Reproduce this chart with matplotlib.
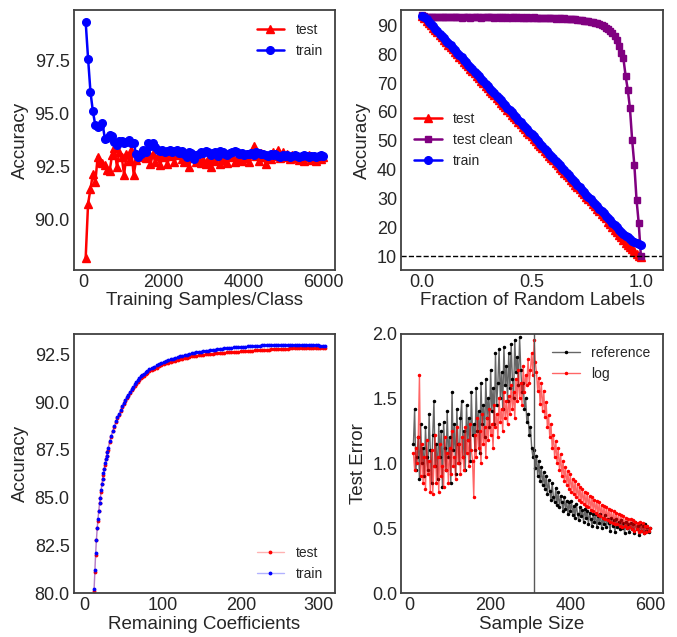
# four panel accuracy / error figure
import numpy as np
import matplotlib.pyplot as plt

# --- panel 1: training samples per class
samples = np.arange(60, 6001, 60)
p1_train = [99.3, 97.58, 96.0, 95.1, 94.45, 94.35, 94.4, 94.55, 93.8, 93.85,
            94.0, 93.95, 93.65, 93.5, 93.7, 93.7, 93.6, 93.65, 93.75, 93.6,
            93.6, 93.1, 92.97, 93.1, 93.3, 93.2, 93.6, 93.45, 93.6, 93.4,
            93.3, 93.25, 93.3, 93.2, 93.25, 93.3, 93.2, 93.25, 93.3, 93.15,
            93.25, 93.1, 92.95, 93.2, 93.15, 92.85, 93.05, 93.1, 93.2, 93.15,
            93.25, 93.2, 93.05, 93.15, 93.2, 93.0, 93.25, 93.2, 93.1, 93.05,
            93.15, 93.2, 93.25, 93.2, 93.1, 93.15, 93.05, 93.1, 93.1, 93.15,
            93.05, 93.2, 93.15, 93.1, 93.1, 93.05, 93.0, 93.1, 93.05, 93.1,
            93.0, 92.95, 93.05, 93.0, 93.05, 92.95, 93.0, 93.05, 93.0, 92.95,
            93.0, 93.05, 93.0, 92.95, 93.0, 93.0, 92.95, 93.0, 93.05, 93.0]
p1_test = [88.2, 90.75, 91.44, 92.16, 91.75, 92.97, 92.7, 92.65, 92.58, 92.34,
           92.3, 93.05, 93.36, 92.5, 93.2, 92.97, 92.1, 93.1, 92.77, 93.28,
           92.1, 92.8, 92.97, 93.1, 93.0, 92.9, 93.2, 92.6, 93.1, 92.7,
           93.0, 92.55, 92.95, 93.15, 92.6, 93.0, 93.1, 92.7, 93.05, 93.1,
           92.85, 92.7, 93.0, 92.5, 92.9, 93.05, 92.7, 92.85, 92.65, 92.8,
           92.6, 92.85, 92.5, 92.9, 92.75, 93.05, 92.6, 92.95, 92.8, 92.65,
           92.95, 93.0, 92.7, 92.85, 93.1, 92.75, 92.9, 93.0, 92.7, 93.1,
           93.45, 93.0, 92.75, 93.15, 92.95, 92.6, 93.0, 92.85, 93.2, 93.0,
           93.3, 92.9, 93.2, 92.95, 93.1, 92.85, 93.05, 92.9, 93.0, 92.8,
           93.0, 92.75, 92.95, 93.05, 92.8, 92.95, 92.75, 93.0, 92.85, 92.95]

# --- panel 2: fraction of random labels
fraction = np.linspace(0, 1, 101)
p2_test = [93.3, 92.5, 91.6, 90.8, 90.0, 89.1, 88.3, 87.5, 86.6, 85.8,
           84.9, 84.1, 83.3, 82.4, 81.6, 80.8, 79.9, 79.1, 78.3, 77.4,
           76.6, 75.8, 74.9, 74.1, 73.3, 72.4, 71.6, 70.8, 69.9, 69.1,
           68.2, 67.4, 66.6, 65.7, 64.9, 64.1, 63.2, 62.4, 61.6, 60.7,
           59.9, 59.1, 58.2, 57.4, 56.6, 55.7, 54.9, 54.0, 53.2, 52.4,
           51.5, 50.7, 49.9, 49.0, 48.2, 47.4, 46.5, 45.7, 44.9, 44.0,
           43.2, 42.4, 41.5, 40.7, 39.9, 39.0, 38.2, 37.4, 36.5, 35.7,
           34.8, 34.0, 33.2, 32.3, 31.5, 30.7, 29.8, 29.0, 28.2, 27.3,
           26.5, 25.7, 24.8, 24.0, 23.2, 22.0, 21.1, 20.2, 19.3, 18.4,
           17.5, 16.6, 15.7, 14.8, 14.0, 13.2, 12.5, 11.8, 11.0, 10.3, 9.7]
p2_clean = [93.4, 93.1, 92.9, 93.0, 92.8, 93.0, 92.9, 92.8, 93.0, 92.9,
            92.8, 92.9, 92.7, 92.9, 92.8, 92.7, 92.9, 92.8, 92.6, 92.8,
            92.7, 92.8, 92.6, 92.8, 92.7, 92.9, 92.8, 92.6, 92.8, 92.7,
            92.9, 92.7, 92.8, 92.6, 92.7, 92.8, 92.6, 92.7, 92.8, 92.6,
            92.7, 92.5, 92.7, 92.8, 92.6, 92.7, 92.5, 92.6, 92.7, 92.5,
            92.6, 92.7, 92.5, 92.6, 92.4, 92.6, 92.5, 92.6, 92.4, 92.5,
            92.5, 92.3, 92.5, 92.4, 92.2, 92.4, 92.3, 92.1, 92.2, 92.0,
            92.1, 91.9, 91.9, 91.7, 91.6, 91.5, 91.3, 91.2, 91.0, 90.8,
            90.6, 90.3, 90.0, 89.6, 89.2, 88.7, 88.0, 87.2, 86.2, 84.8,
            82.8, 80.4, 78.5, 72.5, 67.7, 61.2, 50.2, 41.7, 29.6, 21.5, 10.0]
p2_train = [93.3, 92.8, 92.0, 91.2, 90.4, 89.6, 88.8, 87.9, 87.1, 86.3,
            85.5, 84.7, 83.8, 83.0, 82.2, 81.4, 80.5, 79.7, 78.9, 78.1,
            77.2, 76.4, 75.6, 74.8, 73.9, 73.1, 72.3, 71.5, 70.6, 69.8,
            69.0, 68.1, 67.3, 66.5, 65.6, 64.8, 64.0, 63.1, 62.3, 61.5,
            60.6, 59.8, 59.0, 58.1, 57.3, 56.5, 55.6, 54.8, 54.0, 53.1,
            52.3, 51.5, 50.6, 49.8, 49.0, 48.1, 47.3, 46.5, 45.6, 44.8,
            44.0, 43.1, 42.3, 41.5, 40.6, 39.8, 39.0, 38.1, 37.3, 36.5,
            35.6, 34.8, 34.0, 33.1, 32.3, 31.4, 30.6, 29.8, 28.9, 28.1,
            27.3, 26.5, 25.7, 24.9, 24.1, 23.3, 22.5, 21.7, 20.9, 20.1,
            19.3, 18.6, 17.9, 17.2, 16.6, 16.0, 15.5, 15.0, 14.6, 14.3, 14.0]
chance_level = 10

# --- panel 3: remaining coefficients
coeffs = list(range(12, 31)) + list(range(32, 81, 2)) + list(range(83, 309, 3))
p3_train = [80.2, 81.2, 82.1, 82.8, 83.4, 83.9, 84.3, 84.7, 85.0, 85.4,
            85.7, 86.0, 86.3, 86.5, 86.8, 87.0, 87.2, 87.4, 87.6,
            87.95, 88.25, 88.5, 88.75, 89.0, 89.2, 89.4, 89.6, 89.8, 89.95,
            90.1, 90.25, 90.4, 90.55, 90.7, 90.8, 90.95, 91.05, 91.15, 91.25,
            91.35, 91.42, 91.5, 91.57, 91.63,
            91.72, 91.8, 91.87, 91.94, 92.0, 92.06, 92.11, 92.16, 92.2, 92.25,
            92.29, 92.33, 92.37, 92.4, 92.44, 92.47, 92.5, 92.53, 92.56, 92.58,
            92.61, 92.63, 92.65, 92.67, 92.69, 92.71, 92.73, 92.74, 92.76, 92.77,
            92.79, 92.8, 92.82, 92.83, 92.84, 92.86, 92.87, 92.88, 92.89, 92.9,
            92.91, 92.92, 92.93, 92.94, 92.95, 92.96, 92.97, 92.97, 92.98, 92.99,
            93.0, 93.0, 93.01, 93.01, 93.02, 93.02, 93.02, 93.02, 93.02, 93.02,
            93.01, 93.01, 93.01, 93.0, 92.99, 92.99, 92.98, 92.98, 92.98, 92.98,
            92.98, 92.98, 92.98, 92.97, 92.97, 92.97]
p3_test = [80.1, 81.1, 82.0, 82.8, 83.4, 83.8, 84.3, 84.7, 85.0, 85.3,
           85.7, 86.0, 86.2, 86.5, 86.7, 87.0, 87.2, 87.4, 87.5,
           87.9, 88.2, 88.5, 88.7, 88.95, 89.15, 89.35, 89.55, 89.75, 89.9,
           90.05, 90.2, 90.35, 90.5, 90.62, 90.73, 90.85, 90.95, 91.05, 91.15,
           91.25, 91.32, 91.4, 91.47, 91.53,
           91.62, 91.69, 91.76, 91.82, 91.88, 91.94, 91.99, 92.03, 92.07, 92.11,
           92.15, 92.18, 92.22, 92.25, 92.28, 92.31, 92.34, 92.37, 92.4, 92.42,
           92.44, 92.46, 92.48, 92.5, 92.51, 92.52, 92.54, 92.55, 92.56, 92.58,
           92.59, 92.6, 92.6, 92.61, 92.62, 92.63, 92.63, 92.64, 92.65, 92.66,
           92.67, 92.68, 92.69, 92.7, 92.71, 92.72, 92.73, 92.74, 92.75, 92.75,
           92.76, 92.76, 92.77, 92.78, 92.78, 92.79, 92.8, 92.8, 92.81, 92.81,
           92.82, 92.82, 92.83, 92.83, 92.83, 92.84, 92.84, 92.84, 92.85, 92.85,
           92.85, 92.85, 92.85, 92.85, 92.85, 92.85]

# --- panel 4: sample size vs test error
sample_size = np.arange(10, 601, 3)
p4_reference = [1.15, 1.42, 0.95, 1.05, 1.20, 0.88, 1.30, 1.00, 1.12, 0.90,
                1.28, 1.05, 0.95, 1.38, 1.10, 0.85, 1.22, 1.48, 0.98, 1.15,
                0.88, 1.30, 1.05, 1.25, 0.82, 1.32, 1.12, 0.95, 1.40, 1.05,
                1.20, 0.85, 1.55, 1.10, 1.30, 0.92, 1.42, 1.15, 1.00, 1.35,
                1.48, 1.05, 1.25, 0.95, 1.45, 1.18, 1.35, 1.02, 1.55, 1.22,
                1.30, 1.10, 1.58, 1.25, 1.40, 1.08, 1.62, 1.30, 1.45, 1.20,
                1.65, 1.35, 1.50, 1.28, 1.72, 1.40, 1.58, 1.30, 1.85, 1.45,
                1.62, 1.88, 1.50, 1.70, 1.42, 1.90, 1.60, 1.75, 1.48, 1.85,
                1.58, 1.92, 1.65, 1.50, 1.95, 1.70, 1.82, 1.60, 1.97, 1.72,
                1.55, 1.62, 1.42, 1.50, 1.32, 1.38, 1.22, 1.28, 1.12, 1.05,
                1.10, 0.96, 1.06, 0.90, 1.02, 0.86, 0.97, 0.83, 0.93, 0.80,
                0.90, 0.76, 0.87, 0.79, 0.72, 0.85, 0.74, 0.70, 0.81, 0.68,
                0.78, 0.66, 0.75, 0.70, 0.63, 0.74, 0.65, 0.71, 0.61, 0.70,
                0.63, 0.71, 0.60, 0.67, 0.58, 0.69, 0.61, 0.56, 0.66, 0.59,
                0.64, 0.55, 0.65, 0.58, 0.63, 0.53, 0.62, 0.57, 0.52, 0.61,
                0.55, 0.61, 0.51, 0.59, 0.54, 0.61, 0.50, 0.58, 0.53, 0.60,
                0.51, 0.57, 0.54, 0.48, 0.58, 0.52, 0.56, 0.47, 0.57, 0.51,
                0.55, 0.49, 0.56, 0.50, 0.54, 0.46, 0.55, 0.50, 0.53, 0.47,
                0.54, 0.49, 0.53, 0.46, 0.55, 0.49, 0.52, 0.45, 0.53, 0.48,
                0.52, 0.46, 0.53, 0.48, 0.51, 0.47, 0.50]
p4_log = [1.08, 0.95, 1.12, 1.00, 1.20, 1.68, 0.90, 1.15, 0.85, 1.05,
          0.80, 1.18, 0.92, 1.02, 0.78, 1.10, 0.76, 0.98, 1.22, 0.85,
          1.05, 0.78, 1.15, 0.90, 0.98, 0.82, 1.20, 0.95, 1.08, 0.85,
          1.12, 0.92, 1.25, 0.98, 1.05, 0.88, 1.28, 1.00, 1.15, 0.92,
          1.20, 1.05, 0.95, 1.28, 1.08, 1.18, 0.98, 1.30, 1.10, 1.02,
          0.74, 1.22, 1.05, 1.35, 1.12, 1.25, 1.00, 1.38, 1.15, 1.28,
          1.05, 1.35, 1.18, 1.42, 1.22, 1.30, 1.12, 1.45, 1.28, 1.38,
          1.20, 1.50, 1.32, 1.42, 1.25, 1.55, 1.35, 1.48, 1.30, 1.52,
          1.38, 1.60, 1.42, 1.55, 1.35, 1.65, 1.48, 1.72, 1.50, 1.62,
          1.45, 1.75, 1.55, 1.68, 1.60, 1.80, 1.62, 1.72, 1.85, 1.68,
          1.95, 1.78, 1.70, 1.56, 1.66, 1.46, 1.62, 1.40, 1.56, 1.36,
          1.47, 1.28, 1.37, 1.20, 1.30, 1.12, 1.22, 1.05, 1.17, 1.00,
          1.12, 0.95, 1.07, 0.90, 1.02, 0.86, 0.97, 0.83, 0.94, 0.80,
          0.92, 0.78, 0.88, 0.76, 0.86, 0.74, 0.84, 0.72, 0.82, 0.70,
          0.80, 0.69, 0.78, 0.67, 0.77, 0.66, 0.75, 0.64, 0.74, 0.63,
          0.72, 0.62, 0.71, 0.60, 0.70, 0.59, 0.68, 0.58, 0.67, 0.57,
          0.66, 0.56, 0.65, 0.55, 0.64, 0.54, 0.63, 0.53, 0.62, 0.53,
          0.61, 0.52, 0.60, 0.51, 0.59, 0.52, 0.58, 0.50, 0.57, 0.51,
          0.57, 0.49, 0.56, 0.48, 0.55, 0.49, 0.54, 0.47, 0.55, 0.48,
          0.54, 0.46, 0.52, 0.47, 0.52, 0.48, 0.50]
split_size = 310

plt.style.use('seaborn-v0_8-white')
plt.rcParams['font.family'] = ['Liberation Sans', 'DejaVu Sans']
plt.rcParams['axes.edgecolor'] = '0.25'
plt.rcParams['axes.linewidth'] = 1.3
plt.rcParams['text.color'] = '0.15'
plt.rcParams['axes.labelcolor'] = '0.15'
plt.rcParams['xtick.color'] = '0.15'
plt.rcParams['ytick.color'] = '0.15'

fig, axes = plt.subplots(2, 2, figsize=(6.77, 6.37), dpi=100)
fig.subplots_adjust(left=0.109, right=0.979, top=0.984, bottom=0.069,
                    wspace=0.253, hspace=0.246)
ax1, ax2, ax3, ax4 = axes.ravel()

tick_fs = 13
label_fs = 13.5
legend_fs = 10

# Panel 1
ax1.plot(samples, p1_test, color='red', marker='^', markersize=5.5, lw=1.8, label='test')
ax1.plot(samples, p1_train, color='blue', marker='o', markersize=5.5, lw=1.8, label='train')
ax1.set_yticks([90.0, 92.5, 95.0, 97.5])
ax1.set_xticks([0, 2000, 4000, 6000])
ax1.set_xlabel('Training Samples/Class', fontsize=label_fs, labelpad=1)
ax1.set_ylabel('Accuracy', fontsize=label_fs)
ax1.legend(loc='upper right', fontsize=legend_fs)

# Panel 2
ax2.plot(fraction, p2_test, color='red', marker='^', markersize=5.5, lw=1.8, label='test')
ax2.plot(fraction, p2_clean, color='purple', marker='s', markersize=5, lw=1.8, label='test clean')
ax2.plot(fraction, p2_train, color='blue', marker='o', markersize=5.5, lw=1.8, label='train')
ax2.axhline(chance_level, color='black', ls='--', lw=1)
ax2.set_xlim(-0.095, 1.1)
ax2.set_ylim(5.4, 95.2)
ax2.set_yticks(range(10, 91, 10))
ax2.set_xticks([0.0, 0.5, 1.0])
ax2.set_xlabel('Fraction of Random Labels', fontsize=label_fs, labelpad=1)
ax2.set_ylabel('Accuracy', fontsize=label_fs)
ax2.legend(loc='center left', fontsize=legend_fs)

# Panel 3
ax3.plot(coeffs, p3_test, color=(1, 0, 0, 0.3), marker='.', markersize=3.5,
         mfc='red', mec='red', lw=1, label='test')
ax3.plot(coeffs, p3_train, color=(0, 0, 1, 0.3), marker='.', markersize=3.5,
         mfc='blue', mec='blue', lw=1, label='train')
ax3.set_xlim(-14, 321)
ax3.set_ylim(80, 93.6)
ax3.set_yticks([80.0, 82.5, 85.0, 87.5, 90.0, 92.5])
ax3.set_xticks([0, 100, 200, 300])
ax3.set_xlabel('Remaining Coefficients', fontsize=label_fs, labelpad=1)
ax3.set_ylabel('Accuracy', fontsize=label_fs)
ax3.legend(loc='lower right', fontsize=legend_fs)

# Panel 4
ax4.plot(sample_size, p4_reference, color=(0, 0, 0, 0.6), marker='.', markersize=3,
         mfc='black', mec='black', lw=1, label='reference')
ax4.plot(sample_size, p4_log, color=(1, 0, 0, 0.6), marker='.', markersize=3,
         mfc='red', mec='red', lw=1, label='log')
ax4.axvline(split_size, color='0.35', lw=1)
ax4.set_ylim(0, 2)
ax4.set_xlim(-20, 630)
ax4.set_xticks([0, 200, 400, 600])
ax4.set_yticks([0.0, 0.5, 1.0, 1.5, 2.0])
ax4.set_xlabel('Sample Size', fontsize=label_fs, labelpad=1)
ax4.set_ylabel('Test Error', fontsize=label_fs)
ax4.legend(loc='upper right', fontsize=legend_fs)

for ax in axes.ravel():
    ax.tick_params(labelsize=tick_fs, length=0, pad=3)

plt.savefig('out.png', dpi=100)
